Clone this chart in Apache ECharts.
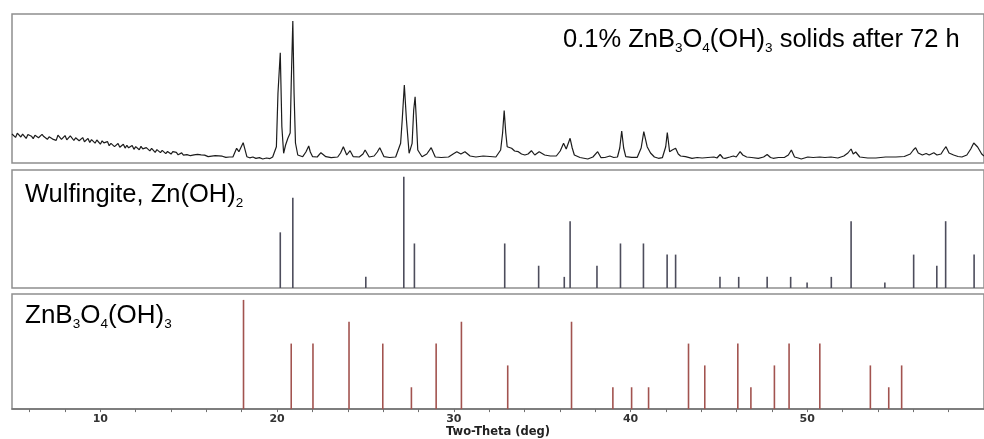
<!DOCTYPE html>
<html>
<head>
<meta charset="utf-8">
<script src="https://cdn.jsdelivr.net/npm/echarts@6/dist/echarts.min.js"></script>
<style>
html,body{margin:0;padding:0;background:#fff;}
#chart{width:984px;height:439px;}
</style>
</head>
<body>
<div id="chart"></div>
<script>
// Observed pattern: [two-theta (deg), intensity (arb.)]
const obsPattern = [
[5.0,29],[5.1,27.5],[5.2,25.6],[5.3,29.8],[5.4,30.6],[5.5,26],[5.6,28.9],[5.7,27.8],[5.8,24.6],[5.9,28.5],
[6.0,29.5],[6.1,26.8],[6.2,24.4],[6.3,27.7],[6.4,28.9],[6.5,25.3],[6.6,23.8],[6.7,28.6],[6.8,26.4],[6.9,27.3],
[7.0,23.7],[7.1,26.2],[7.2,28],[7.3,23.9],[7.4,25.4],[7.5,22.6],[7.6,27.8],[7.7,26.1],[7.8,23.6],[7.9,25.3],
[8.0,27.4],[8.1,23.2],[8.2,24.4],[8.3,27.2],[8.4,26.3],[8.5,22.5],[8.6,25.2],[8.7,26.6],[8.8,22.3],[8.9,24.2],
[9.0,25.4],[9.1,21.3],[9.2,22.4],[9.3,24.6],[9.4,20.5],[9.5,23.4],[9.6,22.3],[9.7,19.8],[9.8,23],[9.9,21.2],
[10.0,18.8],[10.1,22.2],[10.2,20.1],[10.3,18.2],[10.4,21.4],[10.5,17.3],[10.6,19.6],[10.7,20.6],[10.8,16.4],[10.9,18.2],
[11.0,19.5],[11.1,15.8],[11.2,17.6],[11.3,18.8],[11.4,14.9],[11.5,17.7],[11.6,15.2],[11.7,16.9],[11.8,17.6],[11.9,13.7],
[12.0,16.4],[12.1,15.2],[12.2,13.2],[12.3,16.6],[12.4,14.1],[12.5,12.4],[12.6,15.4],[12.7,13.8],[12.8,12.1],[12.9,14.6],
[13.0,12.8],[13.1,10.7],[13.2,13.4],[13.3,11.9],[13.4,10.4],[13.5,12.6],[13.6,11.8],[13.7,9.4],[13.8,11.5],[13.9,10.6],
[14.0,8.9],[14.1,11.3],[14.2,9.6],[14.3,10.6],[14.4,8.2],[14.5,9.8],[14.6,10.1],[14.7,7.9],[14.8,9.3],[14.9,8.4],
[15.0,9.5],[15.1,7.3],[15.2,8.8],[15.3,8.1],[15.4,7.2],[15.5,8.6],[15.6,7.4],[15.7,8.2],[15.8,6.8],[15.9,7.9],
[16.0,7.6],[16.1,6.4],[16.2,7.6],[16.3,6.9],[16.4,6.2],[16.5,7.4],[16.6,6.5],[16.7,7.1],[16.8,5.9],[16.9,6.8],
[17.0,6.4],[17.1,5.6],[17.2,6.8],[17.3,6.0],[17.4,6.6],[17.5,6],[17.71,14.7],[17.84,11.3],[18.08,20.3],[18.29,6.3],
[18.45,5.2],[18.63,6],[18.8,4.6],[19.0,5.4],[19.19,4],[19.4,5],[19.6,4.4],
[19.75,6],[19.96,16.3],[20.05,70],[20.18,110.3],[20.27,36.3],[20.37,9.7],[20.48,18],[20.61,24.7],[20.74,30],[20.80,80],
[20.89,142],[20.96,70],[21.04,20],[21.17,8],[21.45,6.3],[21.63,11],[21.79,17],[21.88,11],[22.01,6.3],[22.27,6],
[22.48,10.3],[22.76,6.3],[23.06,5.3],[23.43,6],[23.59,10],[23.75,16.3],[23.94,8],[24.13,12.3],[24.31,6.3],[24.65,6],
[24.86,9],[24.98,13],[25.21,6],[25.49,7],[25.67,11],[25.81,15.3],[26.05,6.3],[26.37,5.5],[26.71,6],[26.99,19.7],
[27.08,43],[27.20,78],[27.32,43],[27.47,9.7],[27.64,19.7],[27.73,53],[27.81,66.3],[27.88,43],[27.96,13],[28.20,6.3],
[28.47,9],[28.72,15.3],[28.95,6],[29.29,5.5],[29.70,6],[29.96,9],[30.17,11.3],[30.40,9],[30.63,11.3],[30.92,7],
[31.25,6],[31.66,7],[32.04,6.5],[32.38,6],[32.65,13],[32.76,30],[32.85,52.5],[32.94,30],[33.02,16.3],[33.27,14.7],
[33.44,12],[33.65,11.3],[33.83,9],[34.02,8],[34.20,9],[34.39,12.3],[34.58,8],[34.83,11.3],[35.14,8],[35.46,7],
[35.80,7],[36.02,12],[36.21,19.7],[36.36,14],[36.58,24.7],[36.70,15],[36.82,8],[37.14,5.5],[37.58,4],[37.87,6],
[38.14,11.3],[38.33,5.3],[38.55,5.5],[38.83,7],[39.05,5.5],[39.26,6],[39.39,15],[39.50,32],[39.61,15],[39.73,6.3],
[40.06,5.7],[40.38,5.7],[40.60,15],[40.75,31.3],[40.94,16.3],[41.13,10],[41.35,6],[41.58,4.7],[41.80,5.3],[41.99,16.3],
[42.08,30.5],[42.21,11.3],[42.36,13],[42.55,14.7],[42.70,9],[42.83,7],[43.11,6.3],[43.48,4.7],[43.77,5.5],[44.05,5],
[44.38,5.5],[44.72,6],[44.89,5],[45.07,8.5],[45.23,5],[45.35,4.7],[45.62,6],[45.82,7],[45.98,6],[46.20,11.3],
[46.35,8],[46.57,6],[46.85,5.5],[47.23,4.7],[47.53,6],[47.73,8.5],[47.92,5.5],[48.07,4.7],[48.37,5.5],[48.72,5.7],
[48.93,8],[49.10,13],[49.28,6],[49.49,5],[49.66,4],[50.03,6],[50.33,5.5],[50.71,6],[51.00,5.5],[51.34,6],
[51.73,5],[52.07,7],[52.30,10],[52.48,14],[52.60,9],[52.74,11],[52.97,6],[53.42,5],[53.88,5],[54.43,6],
[55.01,6],[55.49,6.5],[55.83,9],[56.00,13],[56.13,15.3],[56.28,10],[56.51,8],[56.73,9.5],[56.90,8],[57.16,10.3],
[57.34,8],[57.57,9],[57.71,13],[57.85,16.3],[58.02,10],[58.28,8],[58.53,6.5],[58.75,6],[59.03,8],[59.25,14],
[59.42,20],[59.64,16],[59.87,9],[60.0,7]
];

// Wulfingite, Zn(OH)2 reference lines
const wulfPos = [20.18,20.89,25.02,27.17,27.77,32.88,34.80,36.25,36.58,38.10,39.43,40.73,42.07,42.55,45.06,46.12,47.73,49.06,49.99,51.36,52.48,54.39,56.02,57.33,57.83,59.44];
const wulfInt = [50,81,10,100,40,40,20,10,60,20,40,40,30,30,10,10,10,10,5,10,60,5,30,20,60,30];

// ZnB3O4(OH)3 reference lines
const znbPos = [18.10,20.80,22.03,24.07,25.98,27.60,29.00,30.43,33.05,36.66,39.00,40.06,41.02,43.28,44.20,46.07,46.81,48.14,48.97,50.71,53.57,54.61,55.34];
const znbInt = [100,60,60,80,60,20,60,80,40,80,20,20,20,60,40,60,20,40,60,60,40,20,40];

const tickValues = [6,8,10,12,14,16,18,20,22,24,26,28,30,32,34,36,38,40,42,44,46,48,50,52,54,56,58];
const tickLabels = [10,20,30,40,50];

const chart = echarts.init(document.getElementById('chart'), null, {renderer:'canvas'});

const borderCol = '#8f8f8f';
const gridBase = {left:12, right:-8, show:true, borderColor:borderCol, borderWidth:1.5, backgroundColor:'#fff'};
const hiddenX = (gi) => ({
  type:'value', gridIndex:gi, min:5, max:60,
  axisLine:{show:false}, axisTick:{show:false}, axisLabel:{show:false}, splitLine:{show:false}
});
const hiddenY = (gi, max) => ({
  type:'value', gridIndex:gi, min:0, max:max,
  axisLine:{show:false}, axisTick:{show:false}, axisLabel:{show:false}, splitLine:{show:false}
});

const subRich = (size) => ({
  n:{fontSize:size, lineHeight:30, fontFamily:'Liberation Sans, Arial, sans-serif', color:'#111'},
  s:{fontSize:13.5, lineHeight:24, verticalAlign:'bottom', fontFamily:'Liberation Sans, Arial, sans-serif', color:'#111'}
});

const option = {
  animation:false,
  backgroundColor:'#fff',
  grid:[
    Object.assign({top:14, height:149}, gridBase),
    Object.assign({top:170, height:118}, gridBase),
    Object.assign({top:294, height:118}, gridBase)
  ],
  xAxis:[
    hiddenX(0), hiddenX(1),
    {
      type:'value', gridIndex:2, min:5, max:60,
      name:'Two-Theta (deg)', nameLocation:'middle', nameGap:15,
      nameTextStyle:{fontFamily:'DejaVu Sans', fontWeight:'bold', fontSize:11.5, color:'#222'},
      axisLine:{show:true, lineStyle:{color:'#707070', width:1.5}},
      axisTick:{show:true, length:3, inside:false, customValues:tickValues, lineStyle:{color:'#707070'}},
      axisLabel:{show:true, customValues:tickLabels, margin:5, fontFamily:'DejaVu Sans', fontWeight:'bold', fontSize:11, color:'#333'},
      splitLine:{show:false}
    }
  ],
  yAxis:[ hiddenY(0,149), hiddenY(1,106), hiddenY(2,105.4) ],
  series:[
    {
      type:'line', xAxisIndex:0, yAxisIndex:0, data:obsPattern,
      showSymbol:false, symbol:'none', smooth:false,
      lineStyle:{color:'#1c1c1c', width:1.2}, clip:true
    },
    {
      type:'bar', xAxisIndex:1, yAxisIndex:1,
      data:wulfPos.map((p,i)=>[p, wulfInt[i]]),
      barWidth:1.6, itemStyle:{color:'#4d4d5c'}
    },
    {
      type:'bar', xAxisIndex:2, yAxisIndex:2,
      data:znbPos.map((p,i)=>[p, znbInt[i]]),
      barWidth:1.6, itemStyle:{color:'#a2534f'}
    }
  ],
  graphic:[
    {
      type:'text', left:563, top:27, z:100,
      style:{
        text:'{n|0.1% ZnB}{s|3}{n|O}{s|4}{n|(OH)}{s|3}{n| solids after 72 h}',
        rich:subRich(25.5)
      }
    },
    {
      type:'text', left:25, top:182, z:100,
      style:{
        text:'{n|Wulfingite, Zn(OH)}{s|2}',
        rich:subRich(25.5)
      }
    },
    {
      type:'text', left:25, top:303, z:100,
      style:{
        text:'{n|ZnB}{s|3}{n|O}{s|4}{n|(OH)}{s|3}',
        rich:subRich(26)
      }
    }
  ]
};
chart.setOption(option);
</script>
</body>
</html>
